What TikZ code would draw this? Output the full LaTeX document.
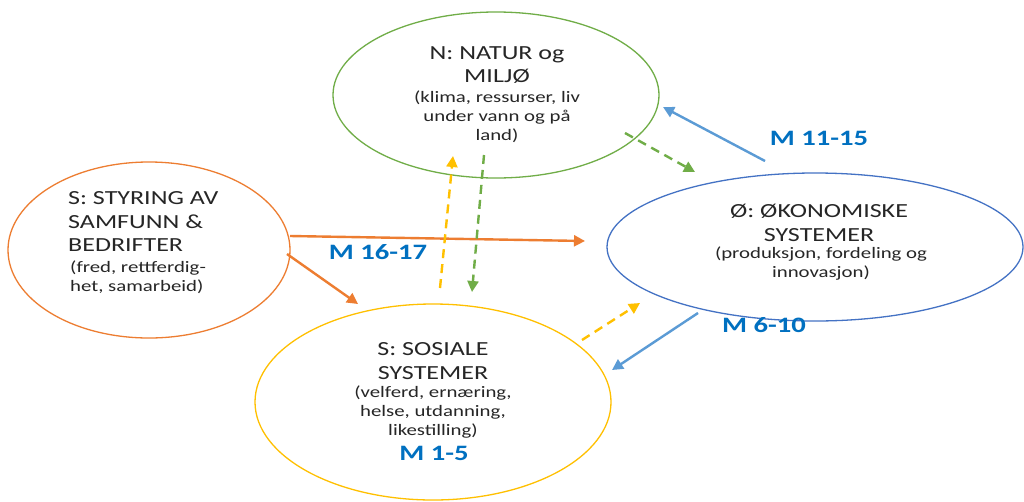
\documentclass[tikz,border=0pt]{standalone}
\usepackage{fontspec}
\setmainfont{Carlito}[FakeStretch=1.3]
\usetikzlibrary{shapes.geometric,arrows.meta}
\definecolor{natgreen}{HTML}{70AD47}
\definecolor{styorange}{HTML}{ED7D31}
\definecolor{okoblue}{HTML}{4472C4}
\definecolor{arrblue}{HTML}{5B9BD5}
\definecolor{sosyellow}{HTML}{FFC000}
\definecolor{mblue}{HTML}{0070C0}
\definecolor{txtgray}{HTML}{262626}
\tikzset{
  sphere/.style={ellipse,draw,line width=1.3pt,inner sep=0pt},
  title/.style={text=txtgray,font=\fontsize{20}{23.5}\selectfont,align=center,inner sep=0pt},
  sub/.style={text=txtgray,font=\fontsize{16}{19}\selectfont,align=center,inner sep=0pt},
  mlabel/.style={text=mblue,font=\fontsize{22}{26}\selectfont\bfseries,inner sep=0pt},
  link/.style={line width=2.4pt,-{Triangle[length=11pt,width=11pt]}},
  dlink/.style={link,dash pattern=on 9pt off 6pt}
}
\begin{document}
\begin{tikzpicture}[x=1pt,y=-1pt]
\useasboundingbox[fill=white] (0,0) rectangle (1024,501);
  \node[sphere,natgreen,minimum width=326pt,minimum height=166pt] (natur) at (496,95) {};
  \node[sphere,styorange,minimum width=282pt,minimum height=176pt] (styring) at (149,250) {};
  \node[sphere,okoblue,minimum width=416pt,minimum height=148pt] (okonomi) at (815,247) {};
  \node[sphere,sosyellow,minimum width=356pt,minimum height=196pt] (sosial) at (433,402) {};

  \node[title] (naturtitle) at (497,65) {N: NATUR og\\MILJØ};
  \node[sub] (natursub) at (497,117) {(klima, ressurser, liv\\under vann og på\\land)};
  \node[title,align=left,anchor=west] (styringtitle) at (68,222) {S: STYRING AV\\SAMFUNN \&\\BEDRIFTER};
  \node[sub,align=left,anchor=west] (styringsub) at (70,277) {(fred, rettferdig-\\het, samarbeid)};
  \node[title] (okonomititle) at (819,223) {Ø: ØKONOMISKE\\SYSTEMER};
  \node[sub] (okonomisub) at (821,264) {(produksjon, fordeling og\\innovasjon)};
  \node[title] (sosialtitle) at (433,361) {S: SOSIALE\\SYSTEMER};
  \node[sub] (sosialsub) at (433,412) {(velferd, ernæring,\\helse, utdanning,\\likestilling)};

  \coordinate (o1) at (290,236); \coordinate (o2) at (585,241);
  \coordinate (o3) at (287,254); \coordinate (o4) at (358,304);
  \coordinate (y1) at (440,288); \coordinate (y2) at (453,156);
  \coordinate (g1) at (484,155); \coordinate (g2) at (472,292);
  \coordinate (g3) at (625,133); \coordinate (g4) at (695,172);
  \coordinate (b1) at (765,161); \coordinate (b2) at (663,107);
  \coordinate (y3) at (582,340); \coordinate (y4) at (640,303);
  \coordinate (b3) at (698,313); \coordinate (b4) at (612,370);

  \draw[link,styorange] (o1)--(o2);
  \draw[link,styorange] (o3)--(o4);
  \draw[dlink,sosyellow] (y1)--(y2);
  \draw[dlink,natgreen] (g1)--(g2);
  \draw[dlink,natgreen] (g3)--(g4);
  \draw[link,arrblue] (b1)--(b2);
  \draw[dlink,sosyellow] (y3)--(y4);
  \draw[link,arrblue] (b3)--(b4);

  \node[mlabel] (m1115) at (819,138) {M 11-15};
  \node[mlabel] (m1617) at (378,252) {M 16-17};
  \node[mlabel] (m610) at (764,325) {M 6-10};
  \node[mlabel] (m15) at (434,453) {M 1-5};
\end{tikzpicture}
\end{document}
